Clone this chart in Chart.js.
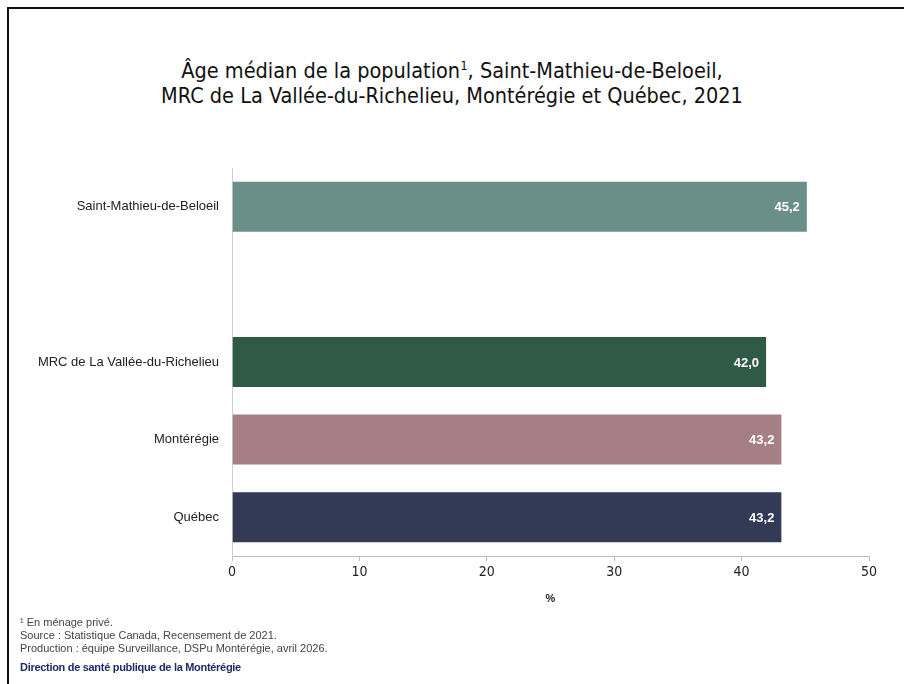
<!DOCTYPE html>
<html><head><meta charset="utf-8">
<script src="https://cdn.jsdelivr.net/npm/chart.js@4"></script>
<style>
html,body{margin:0;padding:0;background:#fff;}
#wrap{position:relative;width:904px;height:684px;overflow:hidden;}
#frame{position:absolute;left:7px;top:7px;width:1000px;height:1000px;border-top:2px solid #111;border-left:2px solid #111;}
#title{position:absolute;left:0;top:58px;width:904px;text-align:center;font-family:'Liberation Sans Narrow','DejaVu Sans Condensed',sans-serif;font-size:21.5px;line-height:25px;color:#111;}
#foot{position:absolute;left:20px;top:616px;font-family:'Liberation Sans',Arial,sans-serif;font-size:11px;line-height:13px;color:#444;}
#dir{position:absolute;left:20px;top:661px;font-family:'Liberation Sans',Arial,sans-serif;font-size:11px;font-weight:bold;color:#1f2a66;letter-spacing:-0.3px;}
canvas{position:absolute;left:0;top:0;}
</style></head>
<body><div id="wrap">
<div id="frame"></div>
<div id="title">Âge médian de la population<sup style="font-size:13px;line-height:0">1</sup>, Saint-Mathieu-de-Beloeil,<br>MRC de La Vallée-du-Richelieu, Montérégie et Québec, 2021</div>
<canvas id="c" width="904" height="684"></canvas>
<div id="foot">¹ En ménage privé.<br>Source : Statistique Canada, Recensement de 2021.<br>Production : équipe Surveillance, DSPu Montérégie, avril 2026.</div>
<div id="dir">Direction de santé publique de la Montérégie</div>
</div>
<script>
const categories = ["Saint-Mathieu-de-Beloeil", "", "MRC de La Vallée-du-Richelieu", "Montérégie", "Québec"];
const values = [45.2, null, 42.0, 43.2, 43.2];
const barColors = ["#6a8f89", "#ffffff", "#2f5a45", "#a57f84", "#323a55"];
const xTicks = [0, 10, 20, 30, 40, 50];

const valueLabels = {
  id: 'valueLabels',
  afterDatasetsDraw(chart) {
    const ctx = chart.ctx;
    const meta = chart.getDatasetMeta(0);
    ctx.save();
    ctx.fillStyle = '#ffffff';
    ctx.font = 'bold 13px "Liberation Sans", Arial, sans-serif';
    ctx.textAlign = 'right';
    ctx.textBaseline = 'middle';
    meta.data.forEach((el, i) => {
      const v = values[i];
      if (v === null) return;
      ctx.fillText(v.toFixed(1).replace('.', ','), el.x - 8, el.y + 1);
    });
    ctx.restore();
  }
};

new Chart(document.getElementById('c'), {
  type: 'bar',
  data: {
    labels: categories,
    datasets: [{
      data: values,
      backgroundColor: barColors,
      borderColor: 'rgba(255,255,255,0.35)',
      borderWidth: 1,
      categoryPercentage: 0.67,
      barPercentage: 1.0
    }]
  },
  options: {
    indexAxis: 'y',
    responsive: false,
    animation: false,
    layout: { padding: { left: 0, top: 168, right: 35, bottom: 78 } },
    plugins: { legend: { display: false }, tooltip: { enabled: false } },
    scales: {
      x: {
        min: 0, max: 50,
        afterBuildTicks(s) { s.ticks = xTicks.map(v => ({ value: v })); },
        afterFit(s) { s.height = 50; },
        grid: { display: true, drawOnChartArea: false, drawTicks: true, tickLength: 5, color: '#bdbdbd' },
        border: { display: true, color: '#bdbdbd', width: 1 },
        ticks: { padding: 3, color: '#222', font: { family: '"Liberation Sans Narrow","DejaVu Sans Condensed",sans-serif', size: 14 } },
        title: { display: true, text: '%', color: '#222', padding: { top: 2, bottom: 0 }, font: { family: '"Liberation Sans", Arial, sans-serif', size: 11, weight: 'bold' } }
      },
      y: {
        afterFit(s) { s.width = 232; },
        grid: { display: false, drawTicks: false },
        border: { display: true, color: '#cfcfcf', width: 1 },
        ticks: { padding: 13, color: '#222', font: { family: '"Liberation Sans", Arial, sans-serif', size: 13 } }
      }
    }
  },
  plugins: [valueLabels]
});
</script>
</body></html>
